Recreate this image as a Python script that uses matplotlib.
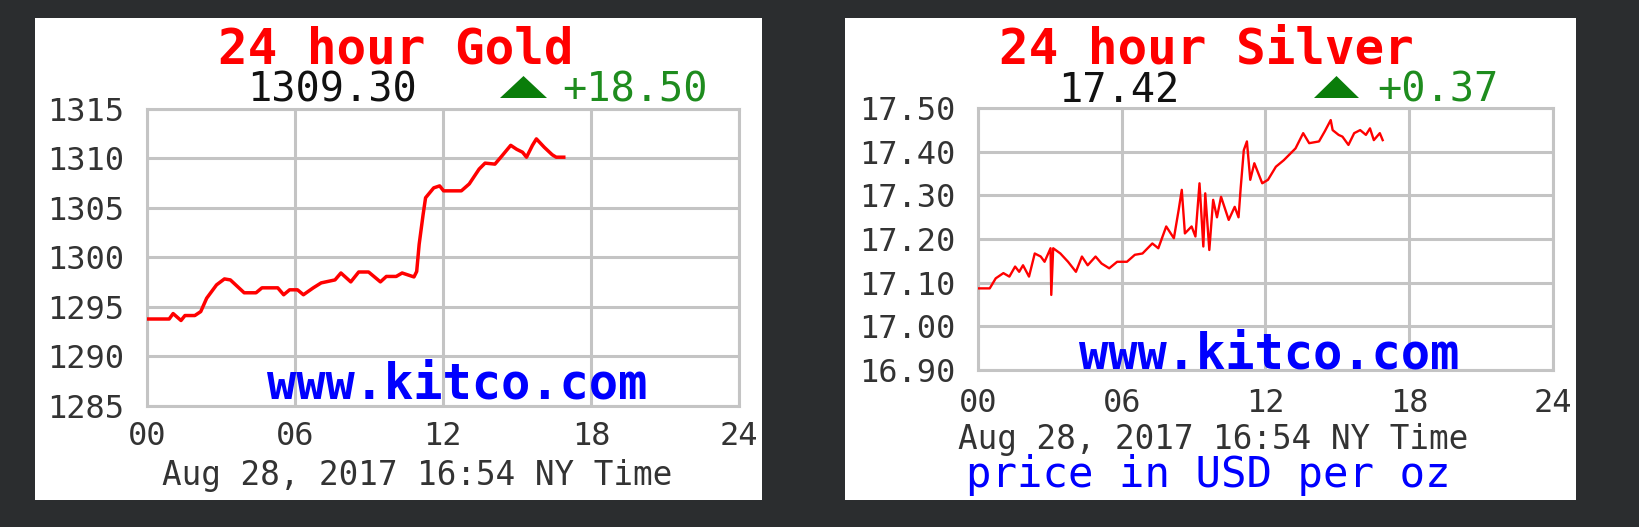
import matplotlib
matplotlib.use("Agg")
import matplotlib.pyplot as plt
from matplotlib.patches import Rectangle, Polygon

W, H = 1639, 527

# gold, hours since midnight NY time -> USD/oz
gold_hours = [0.0, 0.91, 1.07, 1.39, 1.55, 1.95, 2.19, 2.43, 2.83, 3.15, 3.39, 3.95,
              4.43, 4.67, 5.31, 5.55, 5.79, 6.11, 6.35, 6.75, 7.07, 7.63, 7.87, 8.27,
              8.59, 8.99, 9.47, 9.71, 10.11, 10.35, 10.83, 10.94, 11.04, 11.2, 11.3,
              11.63, 11.87, 12.03, 12.75, 13.07, 13.47, 13.71, 14.11, 14.35, 14.75,
              14.99, 15.23, 15.39, 15.63, 15.79, 16.11, 16.43, 16.59, 16.9]
gold_price = [1293.75, 1293.75, 1294.3, 1293.6, 1294.1, 1294.1, 1294.5, 1295.85, 1297.2,
              1297.8, 1297.7, 1296.4, 1296.4, 1296.9, 1296.9, 1296.2, 1296.7, 1296.7,
              1296.2, 1296.9, 1297.4, 1297.7, 1298.4, 1297.5, 1298.5, 1298.5, 1297.5,
              1298.05, 1298.05, 1298.4, 1298.0, 1298.55, 1301.3, 1304.3, 1306.0, 1307.0,
              1307.2, 1306.7, 1306.7, 1307.4, 1308.9, 1309.5, 1309.4, 1310.1, 1311.3,
              1310.9, 1310.6, 1310.1, 1311.3, 1311.95, 1311.1, 1310.35, 1310.1, 1310.1]

silver_hours = [0.0, 0.49, 0.74, 1.06, 1.31, 1.55, 1.72, 1.88, 2.13, 2.37, 2.62, 2.78,
                3.03, 3.06, 3.14, 3.44, 3.76, 4.09, 4.34, 4.58, 4.91, 5.16, 5.48, 5.81,
                6.22, 6.55, 6.87, 7.28, 7.53, 7.86, 8.18, 8.38, 8.51, 8.64, 8.92, 9.08,
                9.25, 9.41, 9.49, 9.66, 9.82, 9.98, 10.15, 10.47, 10.72, 10.88, 10.97,
                11.1, 11.23, 11.37, 11.54, 11.87, 12.11, 12.44, 12.77, 13.26, 13.58,
                13.83, 14.24, 14.48, 14.73, 14.81, 15.06, 15.22, 15.47, 15.71, 15.96,
                16.2, 16.37, 16.53, 16.78, 16.9]
silver_price = [17.087, 17.087, 17.11, 17.122, 17.114, 17.137, 17.125, 17.14, 17.114,
                17.167, 17.16, 17.148, 17.179, 17.072, 17.179, 17.167, 17.148, 17.125,
                17.16, 17.14, 17.16, 17.144, 17.133, 17.148, 17.148, 17.164, 17.167,
                17.19, 17.179, 17.229, 17.202, 17.267, 17.313, 17.213, 17.229, 17.206,
                17.328, 17.183, 17.305, 17.175, 17.29, 17.25, 17.297, 17.244, 17.274,
                17.25, 17.317, 17.404, 17.424, 17.336, 17.374, 17.328, 17.336, 17.366,
                17.381, 17.408, 17.443, 17.42, 17.424, 17.447, 17.473, 17.45, 17.439,
                17.435, 17.416, 17.443, 17.45, 17.439, 17.454, 17.427, 17.443, 17.427]

x_ticks = [0, 6, 12, 18, 24]
x_labels = ["00", "06", "12", "18", "24"]
gold_ticks = [1285, 1290, 1295, 1300, 1305, 1310, 1315]
silver_ticks = [16.90, 17.00, 17.10, 17.20, 17.30, 17.40, 17.50]

stamp = "Aug 28, 2017 16:54 NY Time"

BG = "#2b2d2f"
GRID = "#c4c4c4"
MONO = "DejaVu Sans Mono"


def fx(px):
    return px / W


def fy(py):
    return 1 - py / H


fig = plt.figure(figsize=(W / 100, H / 100), dpi=100, facecolor=BG)


def panel(x0, x1, ax_box, yticks, ylabels, hours, price, lw, title, value, change,
          title_x, value_x, tri_x, change_x, kitco_x, kitco_y, date_x, date_y,
          xtick_pad):
    fig.patches.append(Rectangle((fx(x0), fy(500)), fx(x1 - x0), 482 / H,
                                 transform=fig.transFigure, facecolor="white",
                                 edgecolor="none", zorder=-5))
    ax = fig.add_axes(ax_box)
    ax.plot(hours, price, color="#ff0000", lw=lw, zorder=3)
    ax.set_xlim(0, 24)
    ax.set_ylim(yticks[0], yticks[-1])
    ax.set_xticks(x_ticks)
    ax.set_xticklabels(x_labels, family=MONO, fontsize=23, color="#333333")
    ax.set_yticks(yticks)
    ax.set_yticklabels(ylabels, family=MONO, fontsize=23, color="#333333")
    ax.tick_params(length=0)
    ax.tick_params(axis="y", pad=16)
    ax.tick_params(axis="x", pad=xtick_pad)
    ax.grid(True, color=GRID, lw=2.2)
    for s in ax.spines.values():
        s.set_color(GRID)
        s.set_linewidth(2.2)
    ax.text(kitco_x, kitco_y, "www.kitco.com", transform=ax.transAxes, ha="center",
            va="center", family=MONO, fontweight="bold", fontsize=35, color="#0000ff",
            zorder=4)

    fig.text(fx(title_x), fy(64), title, ha="center", va="baseline", family=MONO,
             fontweight="bold", fontsize=35.5, color="#ff0000")
    fig.text(fx(value_x), fy(102), value, ha="center", va="baseline", family=MONO,
             fontsize=29, color="#111111")
    fig.patches.append(Polygon([(fx(tri_x[0]), fy(98)), (fx(tri_x[1]), fy(98)),
                                (fx((tri_x[0] + tri_x[1]) / 2), fy(76))],
                               closed=True, transform=fig.transFigure,
                               facecolor="#0a7d0a", edgecolor="none"))
    fig.text(fx(change_x), fy(102), change, ha="left", va="baseline", family=MONO,
             fontsize=29, color="#1e8c1e")
    fig.text(fx(date_x), fy(date_y), stamp, ha="center", va="baseline", family=MONO,
             fontsize=23.5, color="#333333")
    return ax


gold_ax = panel(34.5, 762, [fx(146.7), fy(405.6), fx(739 - 146.7), (405.6 - 108.7) / H],
                gold_ticks, [str(t) for t in gold_ticks], gold_hours, gold_price, 2.5,
                "24 hour Gold", "1309.30", "+18.50",
                396, 331.5, (500, 547), 562, 0.524, 0.07, 417, 485.5, 11)

silver_ax = panel(844.6, 1576.3, [fx(978), fy(369.9), fx(1552.7 - 978), (369.9 - 108.3) / H],
                  silver_ticks, ["%.2f" % t for t in silver_ticks], silver_hours,
                  silver_price, 1.7, "24 hour Silver", "17.42", "+0.37",
                  1206.5, 1118.5, (1314, 1359), 1377, 0.507, 0.06, 1213, 448.6, 13)

fig.text(fx(1208), fy(487), "price in USD per oz", ha="center", va="baseline",
         family=MONO, fontsize=30.5, color="#0000ff")

fig.savefig("out.png", dpi=100, facecolor=BG)
